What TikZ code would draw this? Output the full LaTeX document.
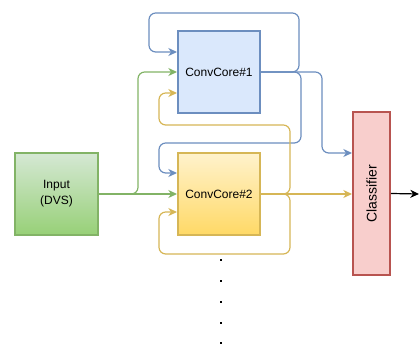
\documentclass[tikz,border=0pt]{standalone}
\usepackage{fontspec}
\setmainfont{Liberation Sans}
\usepackage{graphicx}
\usetikzlibrary{calc,arrows.meta}

\definecolor{bluestroke}{HTML}{6C8EBF}
\definecolor{bluefill}{HTML}{DAE8FC}
\definecolor{greenstroke}{HTML}{82B366}
\definecolor{greentop}{HTML}{D5E8D4}
\definecolor{greenbot}{HTML}{97D077}
\definecolor{yellowstroke}{HTML}{D6B656}
\definecolor{yellowtop}{HTML}{FFF2CC}
\definecolor{yellowbot}{HTML}{FFD966}
\definecolor{redstroke}{HTML}{B85450}
\definecolor{redfill}{HTML}{F8CECC}

\tikzset{
	box/.style={draw, line width=1.5pt, minimum width=61.5pt, minimum height=61.5pt,
		inner sep=0pt, align=center, font=\fontsize{9}{12}\selectfont},
	wire/.style={line width=0.9pt, rounded corners=5pt,
		-{Stealth[length=6.5pt,width=6pt,inset=2pt]}},
	bluewire/.style={wire, draw=bluestroke},
	greenwire/.style={wire, draw=greenstroke},
	yellowwire/.style={wire, draw=yellowstroke},
}

\begin{document}
\begin{tikzpicture}[x=0.75pt,y=-0.75pt]
\useasboundingbox (0,0) rectangle (419,345);

% boxes
\node[box, draw=greenstroke, top color=greentop, bottom color=greenbot,
	minimum width=62.25pt] (input) at (56.5,194) {Input\\(DVS)};
\node[box, draw=bluestroke, fill=bluefill] (core1) at (219,72) {ConvCore\#1};
\node[box, draw=yellowstroke, top color=yellowtop, bottom color=yellowbot] (core2) at (219,194) {ConvCore\#2};
\node[box, draw=redstroke, fill=redfill, minimum width=27.75pt, minimum height=122.25pt,
	font=\fontsize{10.5}{12}\selectfont] (cls) at (371.5,193.5) {\rotatebox{90}{Classifier}};
\coordinate (out) at (419,194);

% ConvCore#1
\draw[bluewire] (core1.east) -| (299,13) -| (149,52) -- ($(core1.west)+(0,-20)$);
\draw[bluewire] (core1.east) -| (301,143) -| (159,173) -- ($(core2.west)+(0,-21)$);
\draw[bluewire] (core1.east) -| (322,153) -- ($(cls.west)+(0,-40.5)$);

% input
\draw[greenwire] (input.east) -| (138,72) -- (core1.west);
\draw[greenwire] (input.east) -- (core2.west);

% ConvCore#2
\draw[yellowwire] (core2.east) -| (290,125) -| (159,93) -- ($(core1.west)+(0,21)$);
\draw[yellowwire] (core2.east) -| (290,254) -| (159,212) -- ($(core2.west)+(0,18)$);
\draw[yellowwire] (core2.east) -- (core2.east -| cls.west);

\draw[wire, draw=black] (cls.east) -- (out);

% more cores
\foreach \y in {259,280,301,322,342} {
	\fill (220,\y) rectangle ++(2,2);
}

\end{tikzpicture}
\end{document}
